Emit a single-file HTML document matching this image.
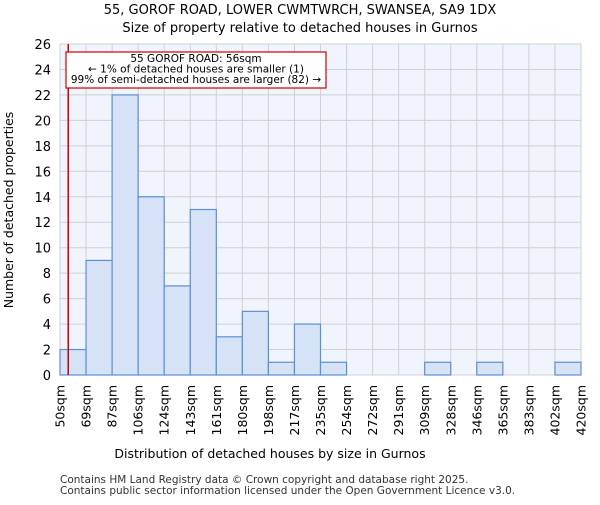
<!DOCTYPE html>
<html><head><meta charset="utf-8"><style>body{margin:0;background:#fff}svg{font-family:"DejaVu Sans","Liberation Sans",sans-serif}</style></head>
<body>
<svg id="c" width="600" height="500" xmlns="http://www.w3.org/2000/svg">
<rect width="600" height="500" fill="#fff"/>
<text x="300" y="14" text-anchor="middle" font-size="13">55, GOROF ROAD, LOWER CWMTWRCH, SWANSEA, SA9 1DX</text>
<text x="300" y="32" text-anchor="middle" font-size="13">Size of property relative to detached houses in Gurnos</text>
<rect x="60" y="44" width="521" height="331" fill="#f0f4fc"/>
<g id="grid"></g><g id="bars"></g><g id="axes"></g>
<text x="270" y="458" text-anchor="middle" font-size="12.5">Distribution of detached houses by size in Gurnos</text>
<text transform="translate(13,210) rotate(-90)" text-anchor="middle" font-size="12.5">Number of detached properties</text>
<text x="60" y="483" font-size="10.5" fill="#333">Contains HM Land Registry data © Crown copyright and database right 2025.</text>
<text x="60" y="494" font-size="10.5" fill="#333">Contains public sector information licensed under the Open Government Licence v3.0.</text>
</svg>
<script>
const binEdges=[50,69,87,106,124,143,161,180,198,217,235,254,272,291,309,328,346,365,383,402,420];
const counts=[2,9,22,14,7,13,3,5,1,4,1,0,0,0,1,0,1,0,0,1];
const yTicks=[0,2,4,6,8,10,12,14,16,18,20,22,24,26];
const subjectSize=56;
const NS="http://www.w3.org/2000/svg";
const L=60,R=581,T=44,B=375;
const xi=i=>L+(R-L)*i/(binEdges.length-1);
const xv=v=>{for(let i=0;i<binEdges.length-1;i++){if(v<=binEdges[i+1])return xi(i)+(v-binEdges[i])/(binEdges[i+1]-binEdges[i])*(xi(i+1)-xi(i));}return R;};
const y=v=>B-(B-T)*v/26;
function mk(tag,a,p){const e=document.createElementNS(NS,tag);for(const k in a)e.setAttribute(k,a[k]);document.getElementById(p).appendChild(e);return e;}
binEdges.forEach((e,i)=>{const l=mk('line',{x1:xi(i),x2:xi(i),y1:T,y2:B,stroke:'#d0d0d0','stroke-width':1},'grid');


const t=mk('text',{transform:`translate(${xi(i)+4.5},385) rotate(-90)`,'text-anchor':'end','font-size':12.5},'axes');t.textContent=e+'sqm';

});
yTicks.forEach(v=>{const l=mk('line',{x1:L,x2:R,y1:y(v),y2:y(v),stroke:'#d0d0d0','stroke-width':1},'grid');


const t=mk('text',{x:51,y:y(v)+5,'text-anchor':'end','font-size':13},'axes');t.textContent=v;

});
counts.forEach((c,i)=>{if(!c)return;const r=mk('rect',{x:xi(i),y:y(c),width:xi(i+1)-xi(i),height:B-y(c),fill:'#d6e2f5',stroke:'#5b8fd6','stroke-width':1.2},'bars');

});
const m=mk('line',{x1:xv(subjectSize),x2:xv(subjectSize),y1:T,y2:B,stroke:'#cc0000','stroke-width':1.5},'axes');


const bx=mk('rect',{x:66,y:52,width:260,height:36,fill:'#fff',stroke:'#cc0000','stroke-width':1.2},'axes');


["55 GOROF ROAD: 56sqm","← 1% of detached houses are smaller (1)","99% of semi-detached houses are larger (82) →"].forEach((s,i)=>{const t=mk('text',{x:196,y:62+i*10.5,'text-anchor':'middle','font-size':10.5},'axes');t.textContent=s;

});
</script>
</body></html>
